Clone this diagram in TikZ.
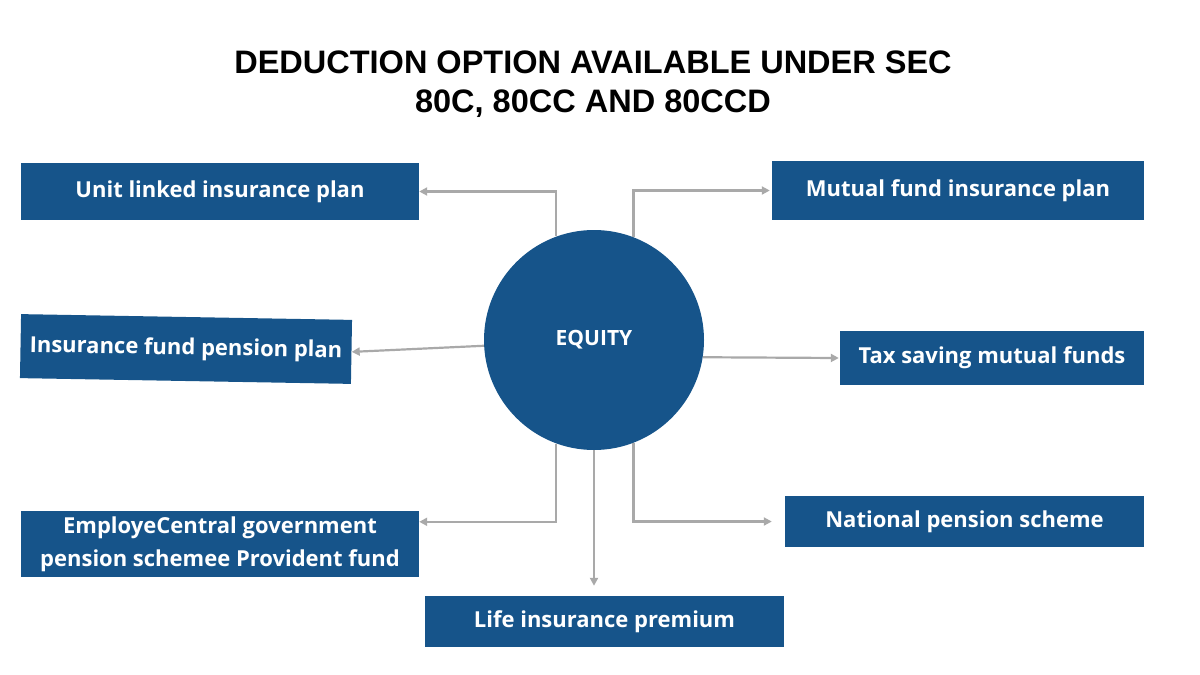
\documentclass[tikz,border=0pt]{standalone}
\usepackage{fontspec}
\setmainfont{Open Sans}
\newfontfamily\titlefont{Liberation Sans}
\usetikzlibrary{arrows.meta}
\definecolor{boxblue}{HTML}{16548A}
\definecolor{linkgray}{HTML}{A9A9A9}
\tikzset{
    optbox/.style={fill=boxblue, text=white, font=\fontsize{22}{33}\selectfont\bfseries,
        inner sep=0pt, align=center},
    link/.style={draw=linkgray, line width=2.2pt, -{Triangle[length=8pt,width=8pt]}},
}
\begin{document}
\begin{tikzpicture}[x=1pt, y=-1pt]
    \useasboundingbox (0,0) rectangle (1200,675);

    % Title
    \node[font=\titlefont\fontsize{32.5}{39}\selectfont\bfseries, align=center] (title) at (593,84)
        {DEDUCTION OPTION AVAILABLE UNDER SEC\\80C, 80CC AND 80CCD};

    % Centre circle
    \node[circle, fill=boxblue, minimum size=220pt, inner sep=0pt] (equity) at (594,340) {};
    \node[text=white, font=\fontsize{21}{24}\selectfont\bfseries] (eqlabel) at (594,340) {EQUITY};

    % Option boxes
    \node[optbox, minimum width=398pt, minimum height=57pt] (ulip) at (220,191.5) {Unit linked insurance plan};
    \node[optbox, minimum width=372pt, minimum height=59pt] (mfip) at (958,190.5) {Mutual fund insurance plan};
    \node[optbox, minimum width=331pt, minimum height=64pt, rotate=-1] (ifpp) at (186,349) {Insurance fund pension plan};
    \node[optbox, minimum width=304pt, minimum height=54pt] (tsmf) at (992,358) {Tax saving mutual funds};
    \node[optbox, minimum width=398pt, minimum height=66pt] (epf) at (220,544)
        {EmployeCentral government\\pension schemee Provident fund};
    \node[optbox, minimum width=359pt, minimum height=51pt] (nps) at (964.5,521.5) {National pension scheme};
    \node[optbox, minimum width=359pt, minimum height=51pt] (lip) at (604.5,621.5) {Life insurance premium};

    % Connectors
    \draw[link] (equity.110) |- (ulip.east);
    \draw[link] (equity.69) |- ([xshift=-2pt]mfip.west);
    \draw[link] (equity.183) -- (ifpp.east);
    \draw[link] (equity.-9) -- ([xshift=-1pt]tsmf.west);
    \draw[link] (equity.250) |- ([yshift=-11pt]epf.north east);
    \draw[link] (equity.south) -- ([yshift=10pt]equity.south |- lip.north);
    \draw[link] (equity.291) |- ([xshift=-13pt]nps.west);
\end{tikzpicture}
\end{document}
